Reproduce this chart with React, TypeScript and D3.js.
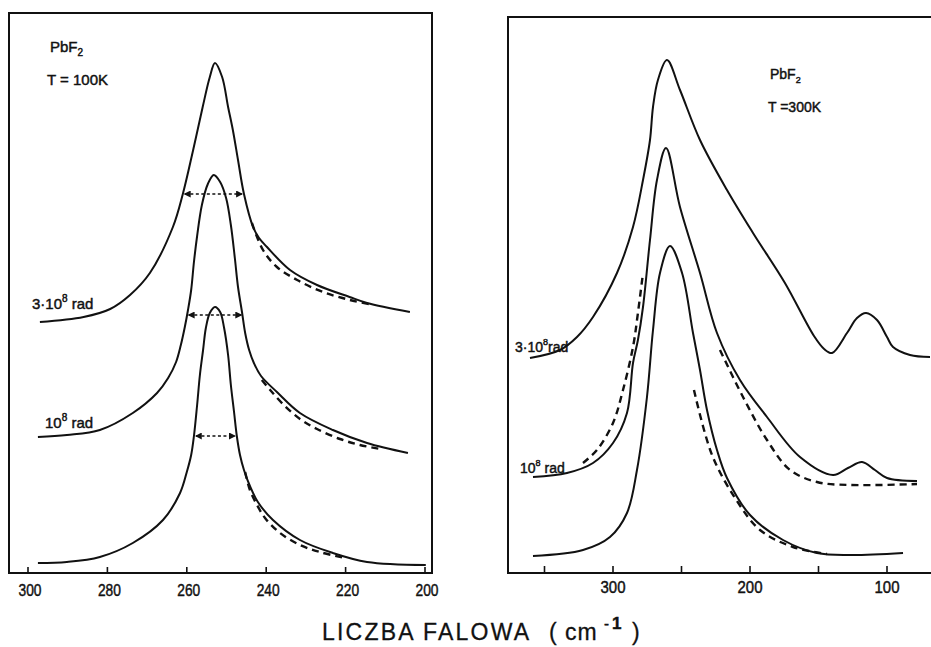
import React from "react";
import * as d3 from "d3";

type P = [number, number];

// ---- axis ticks ----
const leftTicks = [300, 280, 260, 240, 220, 200];
const rightTicks = [350, 300, 250, 200, 150, 100];
const rightTickLabels = [300, 200, 100];

// ---- left panel (T = 100K), [wavenumber cm-1, intensity a.u.] ----
const left3e8: P[] = [
  [297, 251], [286, 256], [279.3, 264], [274.3, 278], [269.3, 300], [263.5, 346], [261, 379],
  [258.4, 423], [256, 466], [254.2, 496], [252.9, 510], [251.1, 496], [249.6, 466], [248.4, 443],
  [247.1, 413], [245.6, 379], [243.3, 346], [241.8, 335], [239.8, 326], [234, 303], [227.2, 288],
  [219, 276], [214.6, 270], [203.8, 261],
];
const left3e8Fit: P[] = [
  [243.6, 350], [240.8, 323], [237.3, 306], [232.2, 293], [225.7, 281], [218.9, 273], [213.1, 268],
];
const left1e8: P[] = [
  [297.5, 136], [290.2, 138], [281.9, 143], [273.6, 160], [267.5, 180], [264.7, 195], [262.7, 211],
  [261.5, 228], [260.5, 246], [259.7, 263], [258.9, 283], [258.2, 311], [257.4, 337], [256.2, 368],
  [254.7, 389], [253.2, 398], [251.6, 391], [250.1, 375], [248.9, 348], [247.9, 315], [247.1, 286],
  [246.1, 261], [245.3, 240], [244.3, 223], [243.1, 210], [241.3, 197], [237.3, 181], [231.5, 160],
  [223.2, 143], [214.6, 130], [204.3, 120],
];
const left1e8Fit: P[] = [
  [241.1, 193], [239.0, 183], [235.8, 169], [231.5, 154], [227.2, 144], [221.4, 134], [216.4, 128],
  [211.3, 124],
];
const left0: P[] = [
  [297.5, 10], [290.2, 11], [281.9, 16], [273.6, 30], [266.0, 53], [261.7, 80], [260.0, 101],
  [258.9, 118], [258.2, 137], [257.4, 168], [256.7, 198], [255.9, 223], [255.2, 245], [254.2, 260],
  [252.9, 266], [251.6, 261], [250.6, 245], [249.6, 218], [248.9, 188], [248.1, 161], [247.4, 137],
  [246.6, 118], [245.6, 103], [244.1, 87], [242.1, 71], [238.3, 53], [231.5, 33], [223.2, 20],
  [214.6, 11], [199.8, 8],
];
const left0Fit: P[] = [
  [245.3, 101], [244.1, 83], [242.3, 68], [240.3, 55], [236.5, 40], [231.5, 28], [226.5, 21],
  [220.2, 15],
];
// half-width markers: [from, to, level]
const leftHalfWidths: [number, number, number][] = [
  [261, 245.6, 379], [260, 245.8, 258], [258.2, 247.4, 137],
];

// ---- right panel (T = 300K) ----
const right3e8: P[] = [
  [360.6, 215], [338.7, 223], [326.3, 236], [314.6, 256], [297.1, 300], [285.4, 346], [278.1, 393],
  [273.0, 433], [270.8, 466], [267.2, 493], [260.6, 513], [251.1, 483], [236.5, 433], [216.8, 383],
  [197.8, 340], [174.5, 290], [153.3, 237], [145.9, 224], [140.1, 220], [129.2, 240], [121.9, 255],
  [115.3, 260], [107.3, 253], [100.0, 236], [95.6, 226], [83.2, 218], [68.6, 216],
];
const right1e8: P[] = [
  [358.4, 96], [333.6, 100], [314.6, 110], [300, 130], [289.8, 160], [285.4, 210], [281.8, 233],
  [278.1, 266], [273.0, 333], [267.9, 393], [261.3, 425], [251.1, 366], [236.5, 300], [224.1, 240],
  [207.3, 193], [187.6, 156], [163.5, 116], [139.4, 98], [128.5, 105], [118.2, 111], [108.8, 103],
  [100.0, 95], [78.1, 92],
];
const right1e8FitLow: P[] = [
  [321.9, 110], [311.7, 123], [300, 150], [292.7, 183], [285.4, 226], [281.8, 260], [278.1, 300],
];
const right1e8FitHigh: P[] = [
  [221.9, 223], [205.1, 176], [187.6, 133], [170.8, 103], [151.1, 91], [127.0, 88], [78.1, 89],
];
const right0: P[] = [
  [358.4, 17], [321.9, 23], [302.2, 36], [289.8, 60], [282.5, 103], [275.2, 176], [270.8, 243],
  [265.7, 300], [258.4, 327], [249.6, 300], [241.6, 240], [236.5, 203], [231.4, 163], [224.1, 123],
  [216.8, 95], [200, 58], [175.9, 33], [151.1, 20], [127.0, 18], [88.3, 20],
];
const right0Fit: P[] = [
  [240.9, 183], [227.7, 118], [210.9, 75], [192.7, 43], [168.6, 26], [143.8, 19],
];

const FONT = "'Liberation Sans', Arial, sans-serif";
const INK = "#111";

export default function App() {
  const lx = d3.scaleLinear().domain([300, 200]).range([28, 425]);
  const ly = d3.scaleLinear().domain([0, 560]).range([573, 13]);
  const rx = d3.scaleLinear().domain([300, 100]).range([613, 887]);
  const ry = d3.scaleLinear().domain([0, 556]).range([573, 17]);

  const mk = (x: d3.ScaleLinear<number, number>, y: d3.ScaleLinear<number, number>) =>
    d3
      .line<P>()
      .x((d) => x(d[0]))
      .y((d) => y(d[1]))
      .curve(d3.curveCatmullRom.alpha(0.5));
  const L = mk(lx, ly);
  const R = mk(rx, ry);

  const solid = { fill: "none", stroke: INK, strokeWidth: 2 };
  const dashed = { fill: "none", stroke: INK, strokeWidth: 2.4, strokeDasharray: "7,5" };
  const txt = { fill: INK, stroke: INK, strokeWidth: 0.45 };

  return (
    <svg
      width={931}
      height={647}
      style={{ position: "absolute", left: 0, top: 0, background: "#fff" }}
      fontFamily={FONT}
    >
      <defs>
        <marker id="ah" viewBox="0 0 6 6" refX="5" refY="3" markerWidth="5" markerHeight="5" orient="auto-start-reverse">
          <path d="M0,0 L6,3 L0,6 z" fill={INK} />
        </marker>
      </defs>
      <rect width={931} height={647} fill="#fff" />

      {/* left frame */}
      <path d="M9,573 L9,13 L432,13 L432,573 Z" fill="none" stroke={INK} strokeWidth={2} />
      {leftTicks.map((t) => (
        <g key={t}>
          <line x1={lx(t)} x2={lx(t)} y1={573} y2={567} stroke={INK} strokeWidth={1.6} />
          <text x={lx(t) + 2} y={596} fontSize={17} textAnchor="middle" textLength={23} lengthAdjust="spacingAndGlyphs" {...txt}>{t}</text>
        </g>
      ))}

      {/* right frame */}
      <path d="M935,17 L508,17 L508,573 L935,573" fill="none" stroke={INK} strokeWidth={2} />
      {rightTicks.map((t) => (
        <line key={t} x1={rx(t)} x2={rx(t)} y1={573} y2={566} stroke={INK} strokeWidth={1.6} />
      ))}
      {rightTickLabels.map((t) => (
        <text key={t} x={rx(t)} y={593} fontSize={17} textAnchor="middle" textLength={25} lengthAdjust="spacingAndGlyphs" {...txt}>{t}</text>
      ))}

      {/* left curves */}
      <path d={L(left3e8) || ""} {...solid} />
      <path d={L(left1e8) || ""} {...solid} />
      <path d={L(left0) || ""} {...solid} />
      <path d={L(left3e8Fit) || ""} {...dashed} />
      <path d={L(left1e8Fit) || ""} {...dashed} />
      <path d={L(left0Fit) || ""} {...dashed} />
      {leftHalfWidths.map(([a, b, v], i) => (
        <line
          key={i}
          x1={lx(a) + 2}
          x2={lx(b) - 2}
          y1={ly(v)}
          y2={ly(v)}
          stroke={INK}
          strokeWidth={1.4}
          strokeDasharray="3,2.5"
          markerStart="url(#ah)"
          markerEnd="url(#ah)"
        />
      ))}

      {/* right curves */}
      <path d={R(right3e8) || ""} {...solid} />
      <path d={R(right1e8) || ""} {...solid} />
      <path d={R(right0) || ""} {...solid} />
      <path d={R(right1e8FitLow) || ""} {...dashed} />
      <path d={R(right1e8FitHigh) || ""} {...dashed} />
      <path d={R(right0Fit) || ""} {...dashed} />

      {/* left annotations */}
      <text x={50} y={52} fontSize={15} {...txt}>PbF<tspan fontSize={10} dy={4}>2</tspan></text>
      <text x={47} y={85} fontSize={15} {...txt}>T = 100K</text>
      <text x={32} y={309} fontSize={15} {...txt}>3·10<tspan fontSize={10} dy={-7}>8</tspan><tspan dy={7}> rad</tspan></text>
      <text x={45} y={428} fontSize={15} {...txt}>10<tspan fontSize={10} dy={-7}>8</tspan><tspan dy={7}> rad</tspan></text>

      {/* right annotations */}
      <text x={770} y={79} fontSize={14} {...txt}>PbF<tspan fontSize={9} dy={4}>2</tspan></text>
      <text x={768} y={112} fontSize={14} {...txt}>T =300K</text>
      <text x={515} y={352} fontSize={14} {...txt}>3·10<tspan fontSize={9} dy={-7}>8</tspan><tspan dy={7}>rad</tspan></text>
      <text x={520} y={473} fontSize={14} {...txt}>10<tspan fontSize={9} dy={-7}>8</tspan><tspan dy={7}> rad</tspan></text>

      {/* axis title */}
      <text x={322} y={640} fontSize={23} letterSpacing={2.2} {...txt} strokeWidth={0.3}>LICZBA FALOWA</text>
      <text x={549} y={640} fontSize={23} {...txt} strokeWidth={0.3}>(</text>
      <text x={565} y={640} fontSize={23} letterSpacing={1} {...txt} strokeWidth={0.3}>cm</text>
      <text x={604} y={629} fontSize={15} {...txt}>-</text>
      <text x={612} y={629} fontSize={17} fontWeight="bold" {...txt}>1</text>
      <text x={632} y={640} fontSize={23} {...txt} strokeWidth={0.3}>)</text>
    </svg>
  );
}
